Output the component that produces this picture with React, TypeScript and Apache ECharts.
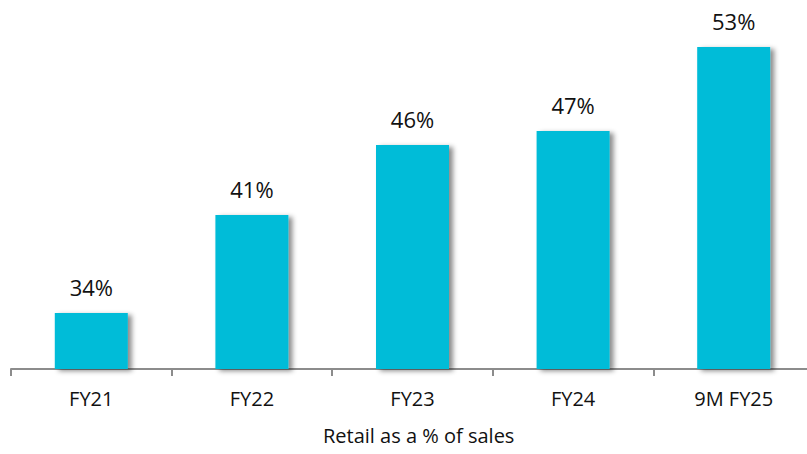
import React, { useEffect, useRef } from "react";
import * as echarts from "echarts";

const categories = ["FY21", "FY22", "FY23", "FY24", "9M FY25"];
const retailShare = [34, 41, 46, 47, 53];
const xTitle = "Retail as a % of sales";

export default function App() {
  const ref = useRef<HTMLDivElement>(null);
  useEffect(() => {
    if (!ref.current) return;
    const chart = echarts.init(ref.current, null, { renderer: "svg" });
    chart.setOption({
      animation: false,
      grid: { left: 11, right: 0, top: 19, bottom: 85, containLabel: false },
      xAxis: {
        type: "category",
        data: categories,
        axisLine: { show: true, lineStyle: { color: "#8c8c8c", width: 2 } },
        axisTick: { show: true, length: 7, lineStyle: { color: "#8c8c8c", width: 2 } },
        axisLabel: { color: "#111", fontSize: 20, fontFamily: "Open Sans", margin: 19 },
      },
      yAxis: {
        type: "value",
        min: 30,
        max: 55,
        show: false,
        splitLine: { show: false },
      },
      series: [
        {
          type: "bar",
          data: retailShare,
          barWidth: 73,
          itemStyle: {
            color: "#04BCD8",
            shadowColor: "rgba(0,0,0,0.45)",
            shadowBlur: 5,
            shadowOffsetX: 4,
            shadowOffsetY: 2,
          },
          label: {
            show: true,
            position: "top",
            distance: 15,
            formatter: "{c}%",
            color: "#111",
            fontSize: 22,
            fontFamily: "Open Sans",
          },
        },
      ],
      graphic: [
        {
          type: "text",
          left: 323,
          top: 425,
          style: { text: xTitle, fontSize: 20, fontFamily: "Open Sans", fill: "#111" },
        },
      ],
    });
    return () => chart.dispose();
  }, []);
  return (
    <div style={{ position: "fixed", left: 0, top: 0, width: 807, height: 454, overflow: "hidden", background: "#fff" }}>
      <div ref={ref} style={{ width: 814, height: 454 }} />
    </div>
  );
}
